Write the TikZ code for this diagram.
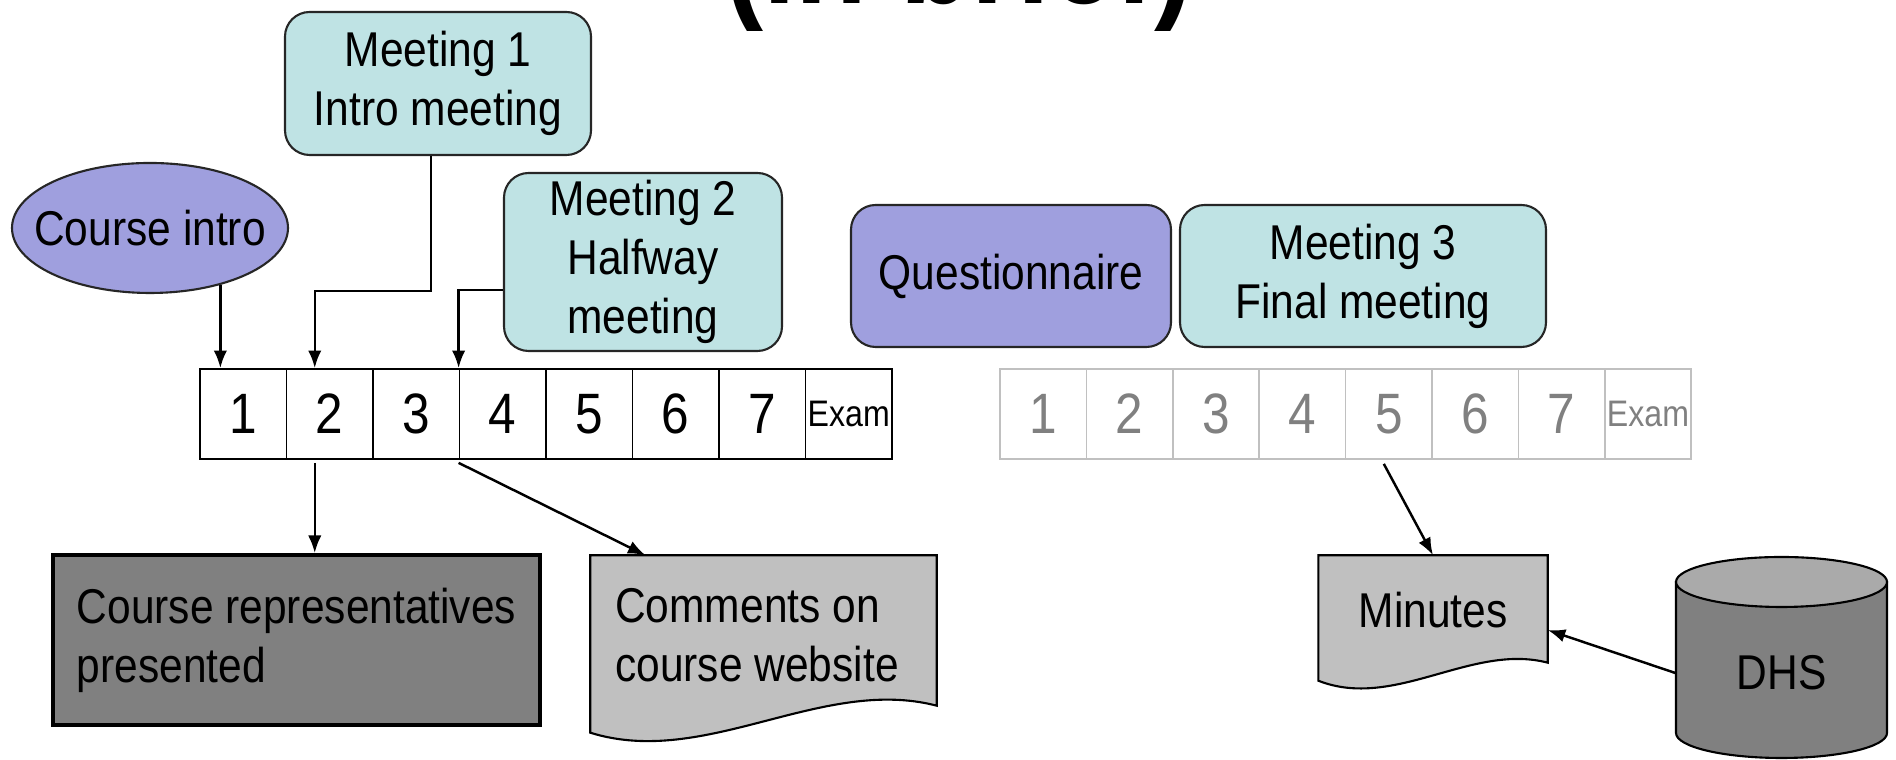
\documentclass[tikz,border=0pt]{standalone}
\usepackage{fontspec}
\setmainfont{Liberation Sans}[FakeStretch=0.87]
\usetikzlibrary{calc,shapes.geometric,arrows.meta}

\definecolor{meetcol}{RGB}{191,227,228}
\definecolor{introcol}{RGB}{159,159,222}
\definecolor{darkcol}{RGB}{128,128,128}
\definecolor{lightcol}{RGB}{192,192,192}
\definecolor{topcol}{RGB}{170,170,170}

\newcommand{\boxfont}{\fontsize{13.9}{16.8}\selectfont}
\newcommand{\digitfont}{\fontsize{16.2}{19}\selectfont}
\newcommand{\examfont}{\fontsize{10.5}{12}\selectfont}

\begin{document}
\begin{tikzpicture}
\tikzset{meeting/.style = {shape=rectangle,draw=black!85,line width=0.6pt,rounded corners=7pt,fill=meetcol,align=center,font=\boxfont,inner sep=0pt}}
\tikzset{intro/.style = {draw=black!85,line width=0.6pt,fill=introcol,font=\boxfont,inner sep=0pt}}
\tikzset{week/.style = {shape=rectangle,draw,line width=0.5pt,minimum width=0.865cm,minimum height=0.9cm,inner sep=0pt,font=\digitfont}}
\tikzset{weekgray/.style = {week,draw=lightcol,text=darkcol,minimum width=0.864cm}}
\tikzset{docu/.style = {shape=rectangle,inner sep=0pt,font=\boxfont}}
\tikzset{edge/.style = {->,> = {Latex[length=5pt,width=3.8pt]},line width=0.7pt}}
\useasboundingbox (0,0) rectangle (18.96,7.60);
% title, cut off at the top
\begin{scope}
\clip (0,0) rectangle (18.96,7.60);
\node[font=\fontsize{38.4}{44}\selectfont\bfseries,anchor=base,inner sep=0pt] (hd) at (9.59,7.56) {(in brief)};
\end{scope}
% top row
\node[intro,shape=ellipse,inner xsep=-1.9mm,inner ysep=0pt,minimum width=2.76cm,minimum height=1.30cm] (ci) at (1.50,5.32) {Course intro};
\node[meeting,minimum width=3.06cm,minimum height=1.43cm] (m1) at (4.38,6.765) {Meeting 1\\Intro meeting};
\node[meeting,minimum width=2.78cm,minimum height=1.78cm] (m2) at (6.43,4.98) {Meeting 2\\Halfway\\meeting};
\node[intro,shape=rectangle,rounded corners=7pt,minimum width=3.20cm,minimum height=1.42cm] (q) at (10.11,4.84) {Questionnaire};
\node[meeting,minimum width=3.66cm,minimum height=1.42cm] (m3) at (13.63,4.84) {Meeting 3\\Final meeting};
% weeks
\foreach \i in {1,...,7}
  \node[week] (a\i) at ({2.00+0.865*(\i-0.5)},3.46) {\i};
\node[week,font=\examfont] (a8) at ({2.00+0.865*7.5},3.46) {Exam};
\foreach \i in {1,...,7}
  \node[weekgray] (b\i) at ({10.00+0.864*(\i-0.5)},3.46) {\i};
\node[weekgray,font=\examfont] (b8) at ({10.00+0.864*7.5},3.46) {Exam};
% results
\node[shape=rectangle,draw,line width=1.1pt,fill=darkcol,minimum width=4.87cm,minimum height=1.70cm,align=left,font=\boxfont] (cr) at (2.965,1.20) {Course representatives\\presented};
\node[docu,minimum width=3.45cm,minimum height=1.49cm] (cw) at (7.635,1.295) {};
\draw[line width=0.6pt,fill=lightcol] (cw.north west) -- (cw.north east) -- (cw.south east)
  .. controls +(-1.15,0.30) and +(1.15,-0.36) .. ($(cw.south west)+(0,-0.27)$) -- cycle;
\node[docu,align=left] at (7.57,1.25) {Comments on\\course website};
\node[docu,minimum width=2.28cm,minimum height=1.06cm] (mn) at (14.33,1.51) {};
\draw[line width=0.6pt,fill=lightcol] (mn.north west) -- (mn.north east) -- (mn.south east)
  .. controls +(-0.76,0.20) and +(0.76,-0.30) .. ($(mn.south west)+(0,-0.18)$) -- cycle;
\node[font=\boxfont] at (14.33,1.50) {Minutes};
% database
\draw[line width=0.6pt,fill=darkcol] (16.76,1.78) -- (16.76,0.27) arc[start angle=180,end angle=360,x radius=1.055,y radius=0.25] -- (18.87,1.78) -- cycle;
\draw[line width=0.6pt,fill=topcol] (17.815,1.78) ellipse [x radius=1.055,y radius=0.25];
\node[font=\boxfont,minimum width=2.11cm,inner sep=0pt] (dhs) at (17.815,0.87) {DHS};
% connectors
\draw[edge] (ci.-39) -- (ci.-39 |- a1.north);
\draw[edge] ([xshift=-0.7mm]m1.south) -- ++(0,-1.35) -| ([xshift=-1.5mm]a2.north);
\draw[edge] ([yshift=-2.8mm]m2.west) -| (a4.north west);
\draw[edge] ([xshift=-1.5mm,yshift=-0.3mm]a2.south) -- ([xshift=-1.5mm]a2.south |- cr.north);
\draw[edge] ([yshift=-0.3mm]a4.south west) -- ([xshift=-11.8mm]cw.north);
\draw[edge] ([xshift=-0.5mm,yshift=-0.4mm]b5.south) -- (mn.north);
\draw[edge] (dhs.west) -- ([yshift=-2.1mm]mn.east);
\end{tikzpicture}
\end{document}
